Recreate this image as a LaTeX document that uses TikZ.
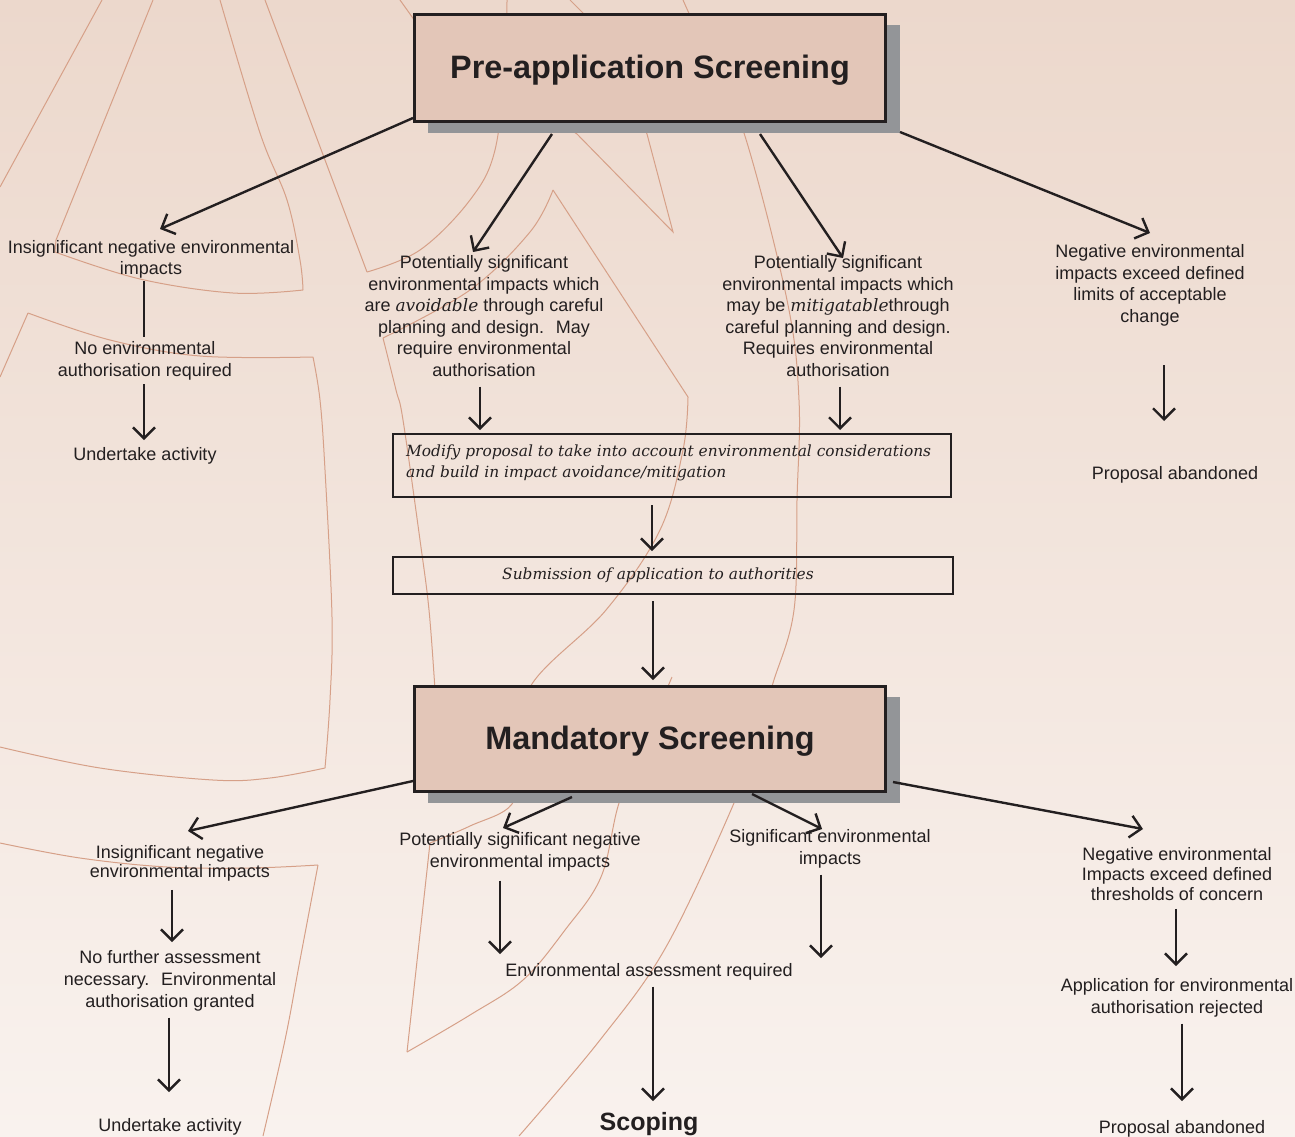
\documentclass[tikz,border=0pt]{standalone}
\usepackage{fontspec}
\setmainfont{Liberation Sans}
\newfontfamily\dvs{DejaVu Serif}
\usetikzlibrary{arrows.meta,shadows,calc}

\definecolor{bgtop}{RGB}{236,216,204}
\definecolor{bgbot}{RGB}{249,242,238}
\definecolor{boxfill}{RGB}{227,198,184}
\definecolor{shadowgray}{RGB}{147,149,152}
\definecolor{ink}{RGB}{35,31,32}
\definecolor{deco}{RGB}{214,160,136}

\newcommand\emw[1]{{\dvs\itshape\fontsize{17}{21.5}\selectfont #1}}

\tikzset{
  txt/.style={font=\fontsize{18}{21.5}\selectfont, text=ink, align=center, inner sep=0pt, yshift=-2pt},
  titlebox/.style={draw=ink, line width=2.6pt, fill=boxfill, minimum width=471.4pt,
    font=\fontsize{32.4}{36}\selectfont\bfseries, text=ink, text height=27pt, text depth=7pt,
    general shadow={fill=shadowgray, shadow xshift=14pt, shadow yshift=-11pt}},
  flowbox/.style={draw=ink, line width=2.5pt, inner sep=0pt},
  serifit/.style={font=\dvs\itshape\fontsize{15.4}{21}\selectfont, text=ink},
  conn/.style={draw=ink, line width=2.4pt},
  arr/.style={conn, -{Straight Barb[length=11pt,width=22pt]}},
  decoline/.style={draw=deco, line width=1pt},
}

\begin{document}
\begin{tikzpicture}[x=1pt,y=-1pt]
\useasboundingbox (0,0) rectangle (1295,1136);
\shade[top color=bgtop, bottom color=bgbot] (0,0) rectangle (1295,1136);

% decorative background curves
\begin{scope}
\clip (0,0) rectangle (1295,1136);
\draw[decoline] (0,187) -- (102,0);
\draw[decoline] (153,0) -- (56,240) -- (55,252);
\draw[decoline] plot[smooth, tension=0.6] coordinates {(55,252) (140,279) (233,293) (303,290)};
\draw[decoline] plot[smooth, tension=0.6] coordinates {(303,290) (300,260) (287,200) (260,133) (220,0)};
\draw[decoline] (265,0) -- (367,272);
\draw[decoline] plot[smooth, tension=0.6] coordinates {(367,272) (420,250) (470,200) (495,150) (505,60) (507,0)};
\draw[decoline] (0,377) -- (28,313);
\draw[decoline] plot[smooth, tension=0.6] coordinates {(28,313) (110,340) (200,356) (313,357)};
\draw[decoline] plot[smooth, tension=0.6] coordinates {(313,357) (320,400) (325,470) (332,617) (330,700) (325,768)};
\draw[decoline] plot[smooth, tension=0.6] coordinates {(325,768) (270,778) (213,780) (100,768) (0,747)};
\draw[decoline] plot[smooth, tension=0.6] coordinates {(553,190) (530,232) (470,290) (383,338)};
\draw[decoline] plot[smooth, tension=0.6] coordinates {(383,338) (396,390) (403,420) (420,540) (429,610) (435,690)};
\draw[decoline] (553,190) -- (688,397);
\draw[decoline] plot[smooth, tension=0.6] coordinates {(688,397) (683,450) (660,530) (606,610) (530,687) (518,760) (512,804) (470,826) (430,843)};
\draw[decoline] (400,0) -- (420,28) -- (577,134) -- (673,232) -- (647,134) -- (600,30) -- (570,0);
\draw[decoline] plot[smooth, tension=0.6] coordinates {(683,0) (710,60) (744,133) (787,300) (799,400) (797,500) (794,610) (773,683) (755,740) (734,803) (666,947) (600,1040) (519,1136)};
\draw[decoline] (430,843) -- (407,1052);
\draw[decoline] plot[smooth, tension=0.6] coordinates {(407,1052) (470,1015) (523,980) (565,930) (601,877) (619,803) (645,740) (672,677)};
\draw[decoline] plot[smooth, tension=0.6] coordinates {(0,843) (80,858) (167,867) (250,868) (318,865)};
\draw[decoline] plot[smooth, tension=0.6] coordinates {(318,865) (300,960) (285,1040) (263,1136)};
\end{scope}

% main boxes
\node[titlebox, minimum height=107.4pt] (pre) at (650,68) {Pre-application Screening};
\node[titlebox, minimum height=105.4pt] (mand) at (650,739) {Mandatory Screening};

% upper level texts
\node[txt] (ins1) at (151,257.5) {Insignificant negative environmental\\impacts};
\node[txt] (noauth1) at (145,359) {No environmental\\authorisation required};
\node[txt] (und1) at (145,454) {Undertake activity};
\node[txt] (avoid) at (484,314) {Potentially significant\\environmental impacts which\\are \emw{avoidable} through careful\\planning and design.~ May\\require environmental\\authorisation};
\node[txt] (mitig) at (838,314) {Potentially significant\\environmental impacts which\\may be \emw{mitigatable}through\\careful planning and design.\\Requires environmental\\authorisation};
\node[txt] (exceed1) at (1150,283.5) {Negative environmental\\impacts exceed defined\\limits of acceptable\\change};
\node[txt] (aband1) at (1175,473) {Proposal abandoned};

\node[flowbox, minimum width=558pt, minimum height=63pt] (modify) at (672,465.5) {};
\node[serifit, anchor=west, align=left, inner sep=0pt] (modifytxt) at (406,462.5) {Modify proposal to take into account environmental considerations\\and build in impact avoidance/mitigation};
\node[flowbox, serifit, minimum width=560pt, minimum height=37pt] (submit) at (673,575.5) {Submission of application to authorities\hspace*{30pt}};

% lower level texts
\node[txt, font=\fontsize{18}{19.5}\selectfont] (ins2) at (180,861.5) {Insignificant negative\\environmental impacts};
\node[txt, font=\fontsize{18}{22}\selectfont] (nofurther) at (170,979) {No further assessment\\necessary.~ Environmental\\authorisation granted};
\node[txt] (und2) at (170,1125) {Undertake activity};
\node[txt, font=\fontsize{18}{22}\selectfont] (potsig2) at (520,850) {Potentially significant negative\\environmental impacts};
\node[txt, font=\fontsize{18}{22}\selectfont] (sig2) at (830,847) {Significant environmental\\impacts};
\node[txt] (envass) at (649,970) {Environmental assessment required};
\node[txt, font=\fontsize{25}{28}\selectfont\bfseries] (scoping) at (649,1122) {Scoping};
\node[txt, font=\fontsize{18}{20}\selectfont] (neg2) at (1177,872) {Negative environmental\\Impacts exceed defined\\thresholds of concern};
\node[txt, font=\fontsize{18}{22}\selectfont] (reject) at (1177,996) {Application for environmental\\authorisation rejected};
\node[txt] (aband2) at (1182,1127) {Proposal abandoned};

% connectors from Pre-application Screening
\coordinate (t1) at (160,229);
\coordinate (t2) at (473,252);
\coordinate (t3) at (843,258);
\coordinate (t4) at (1150,233);
\draw[arr] ([yshift=5pt]pre.south west) -- (t1);
\draw[arr] ([xshift=-98pt,yshift=-11pt]pre.south) -- (t2);
\draw[arr] ([xshift=110pt,yshift=-11pt]pre.south) -- (t3);
\draw[arr] ([xshift=13pt,yshift=-9pt]pre.south east) -- (t4);

\coordinate (c1) at (144,337);
\coordinate (c2) at (144,440);
\coordinate (c3) at (480,430);
\coordinate (c4) at (840,430);
\coordinate (c5) at (1164,421);
\coordinate (c6) at (652,551);
\coordinate (c7) at (653,680);
\draw[conn, shorten <=2pt] (ins1.south -| c1) -- (c1);
\draw[arr, shorten <=4pt] (noauth1.south -| c2) -- (c2);
\draw[arr, shorten <=10pt] (avoid.south -| c3) -- (c3);
\draw[arr, shorten <=10pt] (mitig.south -| c4) -- (c4);
\draw[arr, shorten <=39pt] (exceed1.south -| c5) -- (c5);
\draw[arr, shorten <=7pt] (modify.south -| c6) -- (c6);
\draw[arr, shorten <=6pt] (submit.south -| c7) -- (c7);

% connectors from Mandatory Screening
\coordinate (e1) at (188,831);
\coordinate (e2) at (503,828);
\coordinate (e3) at (822,829);
\coordinate (e4) at (1143,829);
\draw[arr] ([yshift=12pt]mand.south west) -- (e1);
\draw[arr] ([xshift=-78pt,yshift=-4pt]mand.south) -- (e2);
\draw[arr] ([xshift=102pt,yshift=-1pt]mand.south) -- (e3);
\draw[arr] ([xshift=6pt,yshift=11pt]mand.south east) -- (e4);

\coordinate (d1) at (172,942);
\coordinate (d2) at (169,1092);
\coordinate (d3) at (500,954);
\coordinate (d4) at (821,958);
\coordinate (d5) at (653,1101);
\coordinate (d6) at (1176,966);
\coordinate (d7) at (1182,1101);
\draw[arr, shorten <=8pt] (ins2.south -| d1) -- (d1);
\draw[arr, shorten <=6pt] (nofurther.south -| d2) -- (d2);
\draw[arr, shorten <=9pt] (potsig2.south -| d3) -- (d3);
\draw[arr, shorten <=6pt] (sig2.south -| d4) -- (d4);
\draw[arr, shorten <=6pt] (envass.south -| d5) -- (d5);
\draw[arr, shorten <=8pt] (neg2.south -| d6) -- (d6);
\draw[arr, shorten <=6pt] (reject.south -| d7) -- (d7);
\end{tikzpicture}
\end{document}
